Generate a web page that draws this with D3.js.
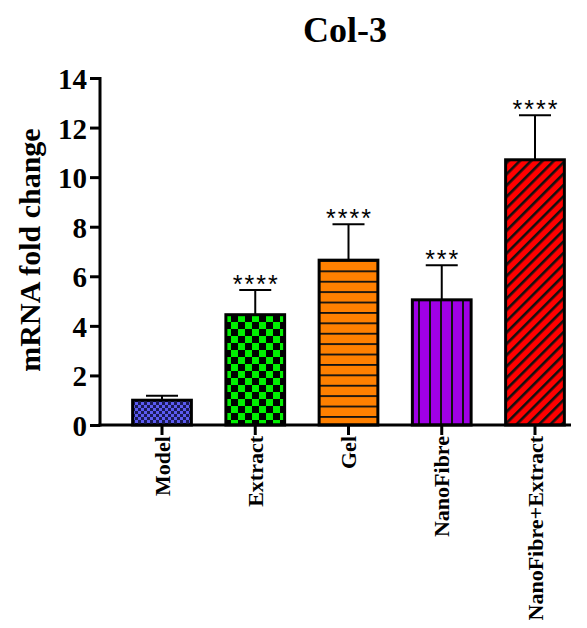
<!DOCTYPE html>
<html>
<head>
<meta charset="utf-8">
<script src="https://cdn.jsdelivr.net/npm/d3@7"></script>
<style>
  body { margin: 0; background: #fff; }
  svg { display: block; }
</style>
</head>
<body>
<div id="chart"></div>
<script>
'use strict';

// data
const groups = ['Model', 'Extract', 'Gel', 'NanoFibre', 'NanoFibre+Extract'];
const means = [1.0, 4.45, 6.65, 5.05, 10.7];
const errUp = [0.18, 1.0, 1.45, 1.4, 1.8];
const stars = ['', '****', '****', '***', '****'];
const yTicks = [0, 2, 4, 6, 8, 10, 12, 14];

const W = 587, H = 628;
const serif = '"Liberation Serif", "DejaVu Serif", serif';

const svg = d3.select('#chart').append('svg').attr('width', W).attr('height', H);
const defs = svg.append('defs');

/* fill patterns, one per group */
function checker(id, size, c1, c2) {
    const p = defs.append('pattern').attr('id', id).attr('patternUnits', 'userSpaceOnUse')
        .attr('width', size * 2).attr('height', size * 2);
    p.append('rect').attr('width', size * 2).attr('height', size * 2).attr('fill', c1);
    p.append('rect').attr('width', size).attr('height', size).attr('fill', c2);
    p.append('rect').attr('x', size).attr('y', size).attr('width', size).attr('height', size).attr('fill', c2);
}
checker('pModel', 3, '#5b5bf2', '#1a1a55');
checker('pExtract', 7, '#00f000', '#000');

const pGel = defs.append('pattern').attr('id', 'pGel').attr('patternUnits', 'userSpaceOnUse')
    .attr('width', 10).attr('height', 10.4);
pGel.append('rect').attr('width', 10).attr('height', 10.4).attr('fill', '#ff8000');
pGel.append('rect').attr('y', 0).attr('width', 10).attr('height', 1.8).attr('fill', '#111');

const pNano = defs.append('pattern').attr('id', 'pNano').attr('patternUnits', 'userSpaceOnUse')
    .attr('width', 11).attr('height', 10);
pNano.append('rect').attr('width', 11).attr('height', 10).attr('fill', '#a000e6');
pNano.append('rect').attr('x', 0).attr('width', 2).attr('height', 10).attr('fill', '#111');

const pNE = defs.append('pattern').attr('id', 'pNE').attr('patternUnits', 'userSpaceOnUse')
    .attr('width', 8).attr('height', 8).attr('patternTransform', 'rotate(45)');
pNE.append('rect').attr('width', 8).attr('height', 8).attr('fill', '#ff0000');
pNE.append('rect').attr('width', 2.6).attr('height', 8).attr('fill', '#111');

const fills = ['url(#pModel)', 'url(#pExtract)', 'url(#pGel)', 'url(#pNano)', 'url(#pNE)'];

/* scales */
const x = d3.scaleBand().domain(groups).range([100, 597]).paddingInner(0.37).paddingOuter(0.35);
const y = d3.scaleLinear().domain([0, 14]).range([425, 78]);

/* bars */
const bars = svg.append('g');
groups.forEach((g, i) => {
    bars.append('rect')
        .attr('x', x(g)).attr('y', y(means[i]))
        .attr('width', x.bandwidth()).attr('height', y(0) - y(means[i]))
        .attr('fill', fills[i]).attr('stroke', '#000').attr('stroke-width', 3);
});

/* error bars (upper only) + significance */
groups.forEach((g, i) => {
    const cx = x(g) + x.bandwidth() / 2;
    const top = y(means[i] + errUp[i]);
    svg.append('line').attr('x1', cx).attr('x2', cx).attr('y1', y(means[i])).attr('y2', top)
        .attr('stroke', '#000').attr('stroke-width', 2);
    svg.append('line').attr('x1', cx - 16).attr('x2', cx + 16).attr('y1', top).attr('y2', top)
        .attr('stroke', '#000').attr('stroke-width', 2);
    if (stars[i]) {
        svg.append('text').attr('x', cx + 1).attr('y', top + 3)
            .attr('text-anchor', 'middle').attr('font-family', '"Liberation Sans", Arial, sans-serif')
            .attr('font-size', 25).attr('letter-spacing', 2).attr('fill', '#000').text(stars[i]);
    }
});

/* y axis */
const yAxis = svg.append('g').attr('transform', 'translate(100,0)')
    .call(d3.axisLeft(y).tickValues(yTicks).tickSize(10).tickPadding(3));
yAxis.select('.domain').remove();
yAxis.selectAll('.tick line').attr('stroke', '#000').attr('stroke-width', 3);
yAxis.selectAll('.tick text').attr('font-family', serif).attr('font-weight', 'bold')
    .attr('font-size', 29).attr('fill', '#000').attr('dy', '0.36em');
svg.append('line').attr('x1', 100).attr('x2', 100).attr('y1', 77).attr('y2', 426.5)
    .attr('stroke', '#000').attr('stroke-width', 3);

/* x axis */
const xAxis = svg.append('g').attr('transform', 'translate(0,425)')
    .call(d3.axisBottom(x).tickSize(10).tickPadding(3));
xAxis.select('.domain').remove();
xAxis.selectAll('.tick line').attr('stroke', '#000').attr('stroke-width', 3);
xAxis.selectAll('.tick text')
    .attr('font-family', serif).attr('font-weight', 'bold').attr('font-size', 22).attr('fill', '#000')
    .attr('text-anchor', 'end').attr('dy', '0.35em')
    .attr('transform', 'translate(0,11) rotate(-90)').attr('x', 0).attr('y', 0);
svg.append('line').attr('x1', 98.5).attr('x2', 571).attr('y1', 425).attr('y2', 425)
    .attr('stroke', '#000').attr('stroke-width', 3);

/* titles */
svg.append('text').attr('x', 345).attr('y', 42).attr('text-anchor', 'middle')
    .attr('font-family', serif).attr('font-weight', 'bold').attr('font-size', 36).text('Col-3');
svg.append('text').attr('transform', 'translate(40,250) rotate(-90)').attr('text-anchor', 'middle')
    .attr('font-family', serif).attr('font-weight', 'bold').attr('font-size', 30).text('mRNA fold change');
</script>
</body>
</html>
